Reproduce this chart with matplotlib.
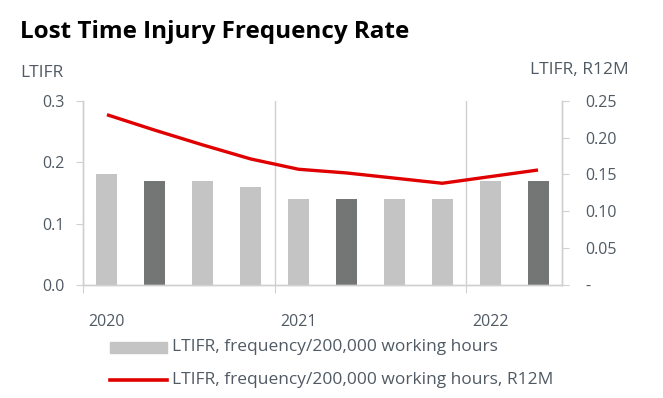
import numpy as np
import matplotlib
matplotlib.use("Agg")
import matplotlib.pyplot as plt
from matplotlib.ticker import FuncFormatter, FixedLocator

# quarterly values, Q1 2020 .. Q2 2022
quarters = ["Q1 2020", "Q2 2020", "Q3 2020", "Q4 2020", "Q1 2021", "Q2 2021",
            "Q3 2021", "Q4 2021", "Q1 2022", "Q2 2022"]
ltifr = [0.18, 0.17, 0.17, 0.16, 0.14, 0.14, 0.14, 0.14, 0.17, 0.17]
ltifr_r12m = [0.231, 0.210, 0.190, 0.171, 0.157, 0.152, 0.145, 0.138, 0.147, 0.156]
bar_colors = ["#c5c4c4", "#737675", "#c5c4c4", "#c5c4c4", "#c5c4c4", "#737675",
              "#c5c4c4", "#c5c4c4", "#c5c4c4", "#737675"]
year_labels = ["2020", "2021", "2022"]

plt.rcParams['font.family'] = ['Open Sans', 'DejaVu Sans']

fig = plt.figure(figsize=(6.63, 3.98), dpi=100)
ax = fig.add_axes([83 / 663, 1 - 285 / 398, 479 / 663, 184.3 / 398])
ax2 = ax.twinx()

x = np.arange(len(quarters))
ax.bar(x, ltifr, width=0.44, color=bar_colors, zorder=2)
ax2.plot(x, ltifr_r12m, color="#e00000", lw=2.4, solid_capstyle="butt", zorder=3)

ax.set_xlim(-0.5, len(quarters) - 0.5)
ax.set_ylim(0, 0.3)
ax2.set_ylim(0, 0.25)

grey = "#d0d0d0"
txt = "#505a64"

# year boundaries as gridlines, labels at first quarter of each year
ax.xaxis.set_major_locator(FixedLocator([-0.5, 3.5, 7.5]))
ax.xaxis.set_major_formatter(FuncFormatter(lambda v, p: ""))
ax.xaxis.set_minor_locator(FixedLocator([0, 4, 8]))
ax.set_xticklabels(year_labels, minor=True)
ax.tick_params(axis="x", which="major", length=6, color=grey, direction="out")
ax.tick_params(axis="x", which="minor", length=0, pad=21, labelsize=11.5, labelcolor=txt)
for xv in [3.5, 7.5]:
    ax.axvline(xv, color=grey, lw=1, zorder=1)

ax.set_yticks([0, 0.1, 0.2, 0.3])
ax.yaxis.set_major_formatter(FuncFormatter(lambda v, p: f"{v:.1f}"))
ax.tick_params(axis="y", length=5, color=grey, labelsize=11.5, labelcolor=txt, pad=8)

ax2.set_yticks([0, 0.05, 0.10, 0.15, 0.20, 0.25])
ax2.yaxis.set_major_formatter(FuncFormatter(lambda v, p: "-" if v == 0 else f"{v:.2f}"))
ax2.tick_params(axis="y", length=5, color=grey, labelsize=11.5, labelcolor=txt, pad=12)

for a in (ax, ax2):
    a.spines["top"].set_visible(False)
    for s in ("left", "right", "bottom"):
        a.spines[s].set_color(grey)
        a.spines[s].set_linewidth(1)

fig.text(20 / 663, 1 - 32 / 398, "Lost Time Injury Frequency Rate",
         fontsize=17.5, fontweight="bold", color="black", va="center")
fig.text(20 / 663, 1 - 73 / 398, "LTIFR", fontsize=12.5, color=txt, va="center")
fig.text(530 / 663, 1 - 70 / 398, "LTIFR, R12M", fontsize=12.5, color=txt, va="center")

# legend drawn manually below the plot
fig.patches.append(plt.Rectangle((110 / 663, 1 - 353 / 398), 57 / 663, 11 / 398,
                                 transform=fig.transFigure, color="#c5c4c4"))
fig.text(172 / 663, 1 - 347 / 398, "LTIFR, frequency/200,000 working hours",
         fontsize=12.5, color=txt, va="center")
fig.lines.append(plt.Line2D([110 / 663, 167 / 663], [1 - 380 / 398, 1 - 380 / 398],
                            transform=fig.transFigure, color="#e00000", lw=2.6))
fig.text(172 / 663, 1 - 380 / 398, "LTIFR, frequency/200,000 working hours, R12M",
         fontsize=12.5, color=txt, va="center")

fig.savefig("out.png", dpi=100)
